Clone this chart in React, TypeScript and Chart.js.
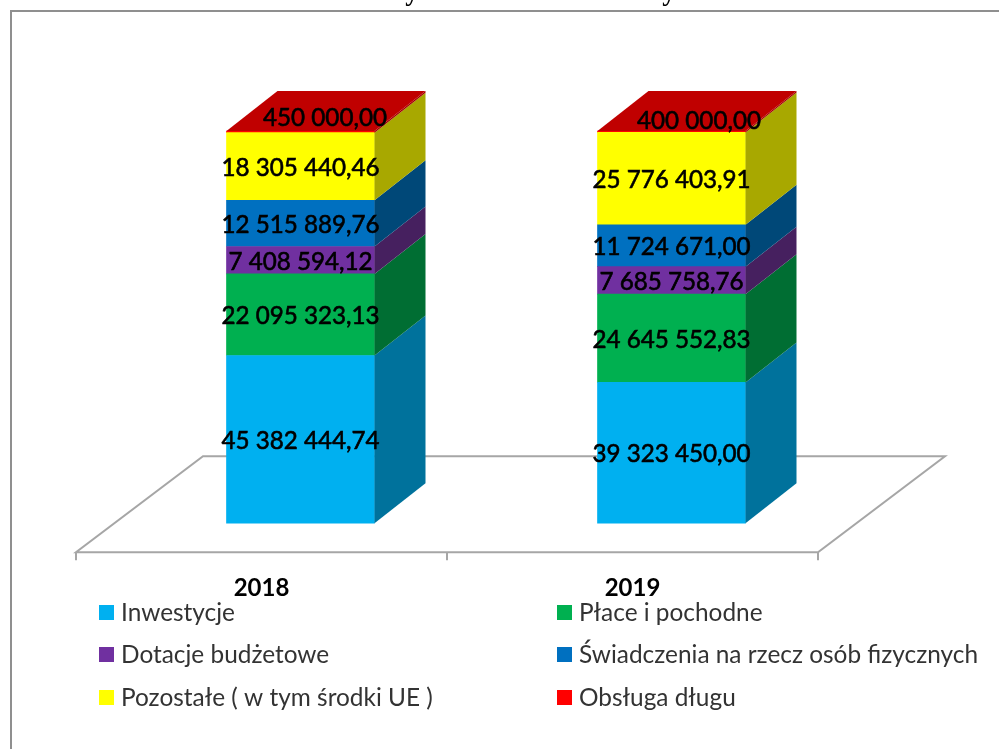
import React, { useEffect, useRef } from "react";
import { Chart, registerables } from "chart.js";

Chart.register(...registerables);

const categories = ["2018", "2019"];
const seriesNames = [
  "Inwestycje",
  "Płace i pochodne",
  "Dotacje budżetowe",
  "Świadczenia na rzecz osób fizycznych",
  "Pozostałe ( w tym środki UE )",
  "Obsługa długu",
];
const inwestycje = [45382444.74, 39323450.0];
const place = [22095323.13, 24645552.83];
const dotacje = [7408594.12, 7685758.76];
const swiadczenia = [12515889.76, 11724671.0];
const pozostale = [18305440.46, 25776403.91];
const obsluga = [450000.0, 400000.0];
const series = [inwestycje, place, dotacje, swiadczenia, pozostale, obsluga];

const frontColors = ["#00B0F0", "#00B050", "#7030A0", "#0070C0", "#FFFF00", "#FF0000"];
const sideColors = ["#00729C", "#006E33", "#46205F", "#004878", "#A8A800", "#A60000"];
const topColor = "#C00000";
const titleTails = ["y", "y"];

const FONT = "Lato, Carlito, Calibri, sans-serif";
const DEPTH_X = 51;
const DEPTH_Y = -40;
const SHIFT_X = 39;
const TOP_LABEL_DX = [24.5, 27.5];
const TOP_LABEL_DY = [-13, -10];

const totals = categories.map((_, i) => series.reduce((sum, s) => sum + s[i], 0));

function formatPl(v: number): string {
  const [whole, frac] = v.toFixed(2).split(".");
  return whole.replace(/\B(?=(\d{3})+(?!\d))/g, " ") + "," + frac;
}

const scene = {
  id: "scene3d",
  beforeDraw(chart: any) {
    const { ctx, width, height } = chart;
    ctx.save();
    ctx.fillStyle = "#FFFFFF";
    ctx.fillRect(0, 0, width, height);
    ctx.strokeStyle = "#8F8F8F";
    ctx.lineWidth = 2;
    ctx.beginPath();
    ctx.moveTo(11, height);
    ctx.lineTo(11, 11);
    ctx.lineTo(width, 11);
    ctx.stroke();
    ctx.fillStyle = "#000000";
    ctx.font = "bold 27px 'Liberation Serif'";
    ctx.textAlign = "center";
    ctx.textBaseline = "alphabetic";
    ctx.fillText(titleTails[0], 412, 0);
    ctx.fillText(titleTails[1], 669, 0);
    ctx.restore();
  },
  beforeDatasetsDraw(chart: any) {
    const { ctx, chartArea, scales } = chart;
    const l = chartArea.left;
    const r = chartArea.right;
    const front = chartArea.bottom + 29;
    const back = chartArea.bottom - 67;
    ctx.save();
    ctx.strokeStyle = "#A6A6A6";
    ctx.lineWidth = 2;
    ctx.beginPath();
    ctx.moveTo(l, front);
    ctx.lineTo(r, front);
    ctx.lineTo(r + 127, back);
    ctx.lineTo(l + 127, back);
    ctx.closePath();
    ctx.stroke();
    const mid = (scales.x.getPixelForValue(0) + scales.x.getPixelForValue(1)) / 2;
    [l, mid, r].forEach((x) => {
      ctx.beginPath();
      ctx.moveTo(x, front);
      ctx.lineTo(x, front + 8);
      ctx.stroke();
    });
    ctx.restore();
    ctx.save();
    ctx.translate(SHIFT_X, 0);
  },
  afterDatasetsDraw(chart: any) {
    const { ctx } = chart;
    chart.data.datasets.forEach((_: any, d: number) => {
      chart.getDatasetMeta(d).data.forEach((bar: any) => {
        const { x, y, base, width } = bar.getProps(["x", "y", "base", "width"], true);
        const right = x + width / 2;
        const left = x - width / 2;
        ctx.fillStyle = sideColors[d];
        ctx.beginPath();
        ctx.moveTo(right, y);
        ctx.lineTo(right + DEPTH_X, y + DEPTH_Y);
        ctx.lineTo(right + DEPTH_X, base + DEPTH_Y);
        ctx.lineTo(right, base);
        ctx.closePath();
        ctx.fill();
        if (d === series.length - 1) {
          ctx.fillStyle = topColor;
          ctx.beginPath();
          ctx.moveTo(left, y);
          ctx.lineTo(left + DEPTH_X, y + DEPTH_Y);
          ctx.lineTo(right + DEPTH_X, y + DEPTH_Y);
          ctx.lineTo(right, y);
          ctx.closePath();
          ctx.fill();
        }
      });
    });
    ctx.restore();

    ctx.save();
    ctx.fillStyle = "#000000";
    ctx.strokeStyle = "#000000";
    ctx.lineWidth = 0.6;
    ctx.font = `24.2px ${FONT}`;
    ctx.textAlign = "center";
    ctx.textBaseline = "middle";
    chart.data.datasets.forEach((_: any, d: number) => {
      chart.getDatasetMeta(d).data.forEach((bar: any, i: number) => {
        const { x, y, base } = bar.getProps(["x", "y", "base"], true);
        const last = d === series.length - 1;
        const lx = x + SHIFT_X + (last ? TOP_LABEL_DX[i] : 0);
        const ly = last ? y + TOP_LABEL_DY[i] : (y + base) / 2 + 1.5;
        const text = formatPl(series[d][i]);
        ctx.fillText(text, lx, ly);
        ctx.strokeText(text, lx, ly);
      });
    });
    ctx.restore();

    ctx.save();
    ctx.font = `24.4px ${FONT}`;
    ctx.textAlign = "left";
    ctx.textBaseline = "middle";
    const cols = [99, 557];
    const rows = [613, 655, 698];
    seriesNames.forEach((name, k) => {
      const cx = cols[k % 2];
      const cy = rows[Math.floor(k / 2)];
      ctx.fillStyle = frontColors[k];
      ctx.fillRect(cx, cy - 8, 15, 15);
      ctx.fillStyle = "#333333";
      ctx.fillText(name, cx + 22, cy);
    });
    ctx.restore();
  },
};

export default function App() {
  const ref = useRef<HTMLCanvasElement>(null);
  useEffect(() => {
    if (!ref.current) return;
    const chart = new Chart(ref.current, {
      type: "bar",
      data: {
        labels: categories,
        datasets: series.map((values, d) => ({
          label: seriesNames[d],
          data: values.map((v, i) => (v / totals[i]) * 100),
          backgroundColor: frontColors[d],
          borderWidth: 0,
          clip: false as any,
        })),
      },
      options: {
        responsive: false,
        animation: false,
        layout: { padding: { left: 76, right: 181, top: 131, bottom: 95 } },
        plugins: {
          legend: { display: false },
          title: { display: false },
          tooltip: { enabled: false },
        },
        scales: {
          x: {
            stacked: true,
            grid: { display: false, drawTicks: false },
            border: { display: false },
            ticks: {
              padding: 51,
              color: "#000000",
              maxRotation: 0,
              font: { family: FONT, size: 24, weight: "bold" },
            },
          },
          y: { stacked: true, display: false, min: 0, max: 100 },
        },
        datasets: { bar: { barThickness: 148 } },
      },
      plugins: [scene],
    });
    return () => chart.destroy();
  }, []);
  return (
    <canvas
      ref={ref}
      width={999}
      height={749}
      style={{ position: "absolute", left: 0, top: 0, display: "block" }}
    />
  );
}
